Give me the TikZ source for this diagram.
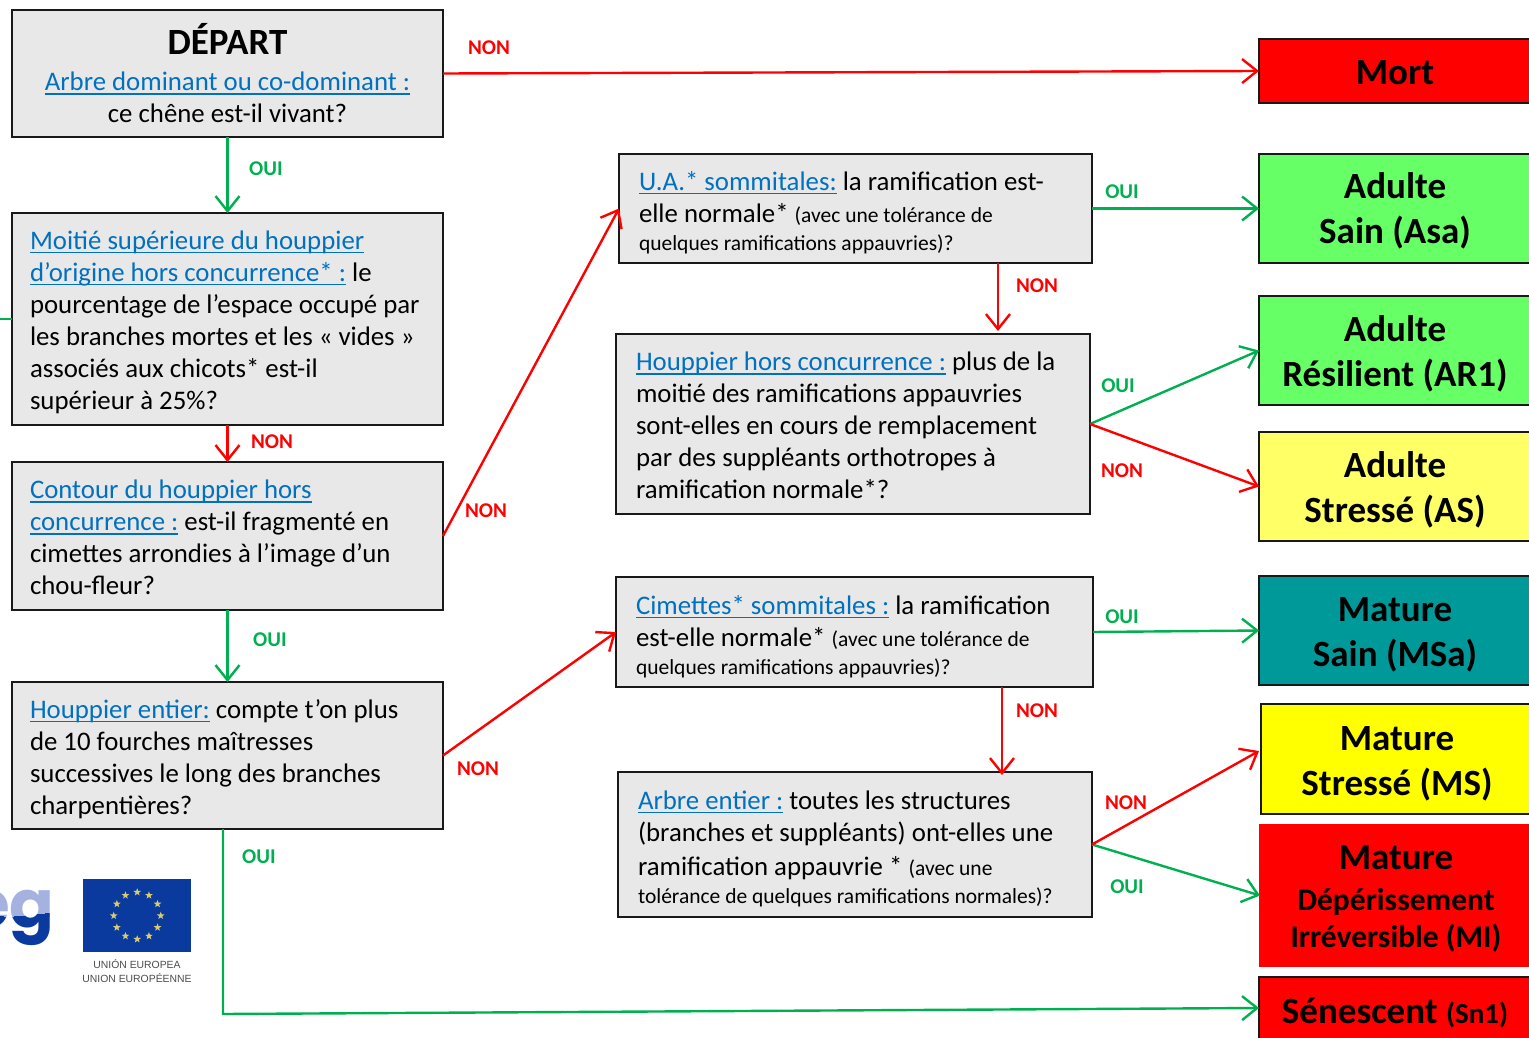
\documentclass[tikz,border=0pt]{standalone}
\usepackage{fontspec}
\setmainfont{Carlito}
\newfontfamily\logofont{Poppins}
\newfontfamily\eufont{Liberation Sans}
\usetikzlibrary{arrows.meta,calc,shapes.geometric}
\definecolor{lb}{HTML}{0070C0}
\definecolor{gr}{HTML}{00B050}
\definecolor{rd}{HTML}{FF0000}
\definecolor{boxg}{HTML}{E8E8E8}
\definecolor{lgreen}{HTML}{66FF66}
\definecolor{lyellow}{HTML}{FFFF66}
\definecolor{yel}{HTML}{FFFF00}
\definecolor{teal2}{HTML}{009999}
\definecolor{eublue}{HTML}{0B3A9E}
\definecolor{egdark}{HTML}{0B3A9E}
\definecolor{eglight}{HTML}{A5B2E0}
\definecolor{eustar}{HTML}{D8CC70}
\newcommand\lk[1]{\leavevmode{\color{lb}\setbox0\hbox{#1}\rlap{\rule[-3.6pt]{\wd0}{1.3pt}}\box0}}
\newcommand\smalltxt{\fontsize{21.5}{28}\selectfont}
\tikzset{
  x=1pt,y=1pt,
  tdown/.style={execute at begin node={\vskip #1}},
  qbox/.style={draw=black!90,line width=2pt,outer sep=0pt,fill=boxg,anchor=north west,inner xsep=18pt,inner ysep=0pt,align=flush left,font=\fontsize{26.8}{32}\selectfont},
  res/.style={draw=black!90,line width=2pt,outer sep=0pt,anchor=north west,align=flush center,inner sep=0pt,minimum width=272pt,text width=272pt,font=\fontsize{37}{45}\selectfont\bfseries},
  yes/.style={draw=gr,line width=2.4pt,-{Straight Barb[length=15pt,width=24pt,line width=2.4pt]}},
  no/.style={draw=rd,line width=2.4pt,-{Straight Barb[length=15pt,width=24pt,line width=2.4pt]}},
  oui/.style={text=gr,font=\fontsize{21}{24}\selectfont\bfseries,inner sep=0pt,yshift=-1pt},
  nonl/.style={text=rd,font=\fontsize{21}{24}\selectfont\bfseries,inner sep=0pt,yshift=-1pt},
  eustarshape/.style={star,star points=5,star point ratio=2.4,fill=eustar,inner sep=0pt,minimum size=8pt},
}
\begin{document}
\begin{tikzpicture}
\useasboundingbox (0,0) rectangle (1529,-1038);
\clip (0,0) rectangle (1529,-1038);
% question boxes
\node[qbox,align=flush center,text width=395pt,minimum width=431pt,minimum height=127pt] (depart) at (12,-10) {{\fontsize{37}{36}\selectfont\bfseries DÉPART}\\[4pt]\lk{Arbre dominant ou co-dominant :}\\ce chêne est-il vivant?};
\node[qbox,tdown=-6pt,text width=395pt,minimum width=431pt,minimum height=212pt] (moitie) at (12,-213) {\lk{Moitié supérieure du houppier}\\\lk{d’origine hors concurrence* :} le\\pourcentage de l’espace occupé par\\les branches mortes et les « vides »\\associés aux chicots* est-il\\supérieur à 25\%?};
\node[qbox,tdown=-10pt,text width=395pt,minimum width=431pt,minimum height=148pt] (contour) at (12,-462) {\lk{Contour du houppier hors}\\\lk{concurrence :} est-il fragmenté en\\cimettes arrondies à l’image d’un\\chou-fleur?};
\node[qbox,tdown=-6pt,text width=395pt,minimum width=431pt,minimum height=147pt] (entier) at (12,-682) {\lk{Houppier entier:} compte t’on plus\\de 10 fourches maîtresses\\successives le long des branches\\charpentières?};
\node[qbox,tdown=-5pt,inner xsep=20pt,text width=433pt,minimum width=473pt,minimum height=109pt] (ua) at (619,-154) {\lk{U.A.* sommitales:} la ramification est-\\elle normale* {\smalltxt (avec une tolérance de}\\[-4pt]{\smalltxt quelques ramifications appauvries)?}};
\node[qbox,tdown=-10pt,inner xsep=20pt,text width=434pt,minimum width=474pt,minimum height=180pt] (hhc) at (616,-334) {\lk{Houppier hors concurrence :} plus de la\\moitié des ramifications appauvries\\sont-elles en cours de remplacement\\par des suppléants orthotropes à\\ramification normale*?};
\node[qbox,tdown=-4pt,inner xsep=20pt,text width=437pt,minimum width=477pt,minimum height=110pt] (cim) at (616,-577) {\lk{Cimettes* sommitales :} la ramification\\est-elle normale* {\smalltxt (avec une tolérance de}\\[-4pt]{\smalltxt quelques ramifications appauvries)?}};
\node[qbox,tdown=-4pt,inner xsep=20pt,text width=434pt,minimum width=474pt,minimum height=145pt] (ae) at (618,-772) {\lk{Arbre entier :} toutes les structures\\(branches et suppléants) ont-elles une\\[2pt]ramification appauvrie * {\smalltxt (avec une}\\[-4pt]{\smalltxt tolérance de quelques ramifications normales)?}};
% result boxes
\node[res,tdown=-18pt,fill=rd,minimum height=64pt] (mort) at (1259,-39) {Mort};
\node[res,tdown=-14pt,fill=lgreen,minimum height=109pt] (asa) at (1259,-154) {Adulte\\Sain (Asa)};
\node[res,tdown=-12pt,fill=lgreen,minimum height=109pt] (ar) at (1259,-296) {Adulte\\Résilient (AR1)};
\node[res,tdown=-12pt,fill=lyellow,minimum height=109pt] (as) at (1259,-432) {Adulte\\Stressé (AS)};
\node[res,tdown=-12pt,fill=teal2,minimum height=109pt] (msa) at (1259,-576) {Mature\\Sain (MSa)};
\node[res,tdown=-12pt,fill=yel,minimum height=110pt] (ms) at (1261,-704) {Mature\\Stressé (MS)};
\node[res,tdown=-14pt,draw=rd,fill=rd,minimum height=141pt] (mi) at (1260,-825) {Mature\\[-4pt]{\fontsize{31.5}{37}\selectfont Dépérissement}\\[-8pt]{\fontsize{31.5}{37}\selectfont Irréversible (MI)}};
\node[res,tdown=-10pt,fill=rd,minimum height=62pt] (sn) at (1259,-977) {Sénescent {\fontsize{29}{30}\selectfont (Sn1)}};
% free-end coordinates
\coordinate (uaout) at (998,-263);
\coordinate (hhcin) at (998,-331);
\coordinate (cimout) at (1002,-687);
\coordinate (aein) at (1002,-775);
\coordinate (msin) at (1259,-751);
\coordinate (entout) at (223,-829);
\coordinate (entcorner) at (223,-1014);
\coordinate (stubA) at (0,0);
% connectors
\draw[no] (depart.east) -- (mort.west);
\draw[yes] (depart.south) -- (moitie.north);
\draw[no] (moitie.south) -- (contour.north);
\draw[yes] (contour.south) -- (entier.north);
\draw[no] (contour.east) -- (ua.west);
\draw[no] (entier.east) -- (cim.west);
\draw[yes] (ua.east) -- (asa.west);
\draw[no] (uaout) -- (hhcin);
\draw[yes] (hhc.east) -- (ar.west);
\draw[no] (hhc.east) -- (as.west);
\draw[yes] (cim.east) -- (msa.west);
\draw[no] (cimout) -- (aein);
\draw[yes] (ae.east) -- (mi.west);
\draw[no] (ae.east) -- (msin);
\draw[yes] (entout) -- (entcorner) -- (sn.west);
\draw[gr,line width=2.4pt] (stubA |- moitie.west) -- (moitie.west);
% labels
\node[nonl] (l1) at (489,-47) {NON};
\node[oui] (l2) at (266,-168) {OUI};
\node[nonl] (l3) at (272,-441) {NON};
\node[nonl] (l4) at (486,-510) {NON};
\node[oui] (l5) at (270,-639) {OUI};
\node[nonl] (l6) at (478,-768) {NON};
\node[oui] (l7) at (259,-856) {OUI};
\node[oui] (l8) at (1122,-191) {OUI};
\node[nonl] (l9) at (1037,-285) {NON};
\node[oui] (l10) at (1118,-385) {OUI};
\node[nonl] (l11) at (1122,-470) {NON};
\node[oui] (l12) at (1122,-616) {OUI};
\node[nonl] (l13) at (1037,-710) {NON};
\node[nonl] (l14) at (1126,-802) {NON};
\node[oui] (l15) at (1127,-886) {OUI};
% logo fragment
\begin{scope}
\clip (0,-880) rectangle (60,-916);
\node[text=eglight,font=\fontsize{66}{66}\selectfont\logofont\bfseries,anchor=base east,inner sep=0pt] (lg1) at (55,-927) {eg};
\end{scope}
\begin{scope}
\clip (0,-916) .. controls (20,-918) and (35,-912) .. (60,-913) -- (60,-960) -- (0,-960) -- cycle;
\node[text=egdark,font=\fontsize{66}{66}\selectfont\logofont\bfseries,anchor=base east,inner sep=0pt] (lg2) at (55,-927) {eg};
\end{scope}
% EU flag
\node[fill=eublue,minimum width=108pt,minimum height=73pt,inner sep=0pt,anchor=north west] (flag) at (83,-879) {};
\foreach \a in {0,30,...,330}{
  \node[eustarshape] at ($(flag.center)+(\a:23.5)$) {};
}
\node[font=\fontsize{10.4}{14}\selectfont\eufont,text=black!70,align=center,inner sep=0pt] (eutxt) at (137,-971) {UNIÓN EUROPEA\\UNION EUROPÉENNE};
\end{tikzpicture}
\end{document}
